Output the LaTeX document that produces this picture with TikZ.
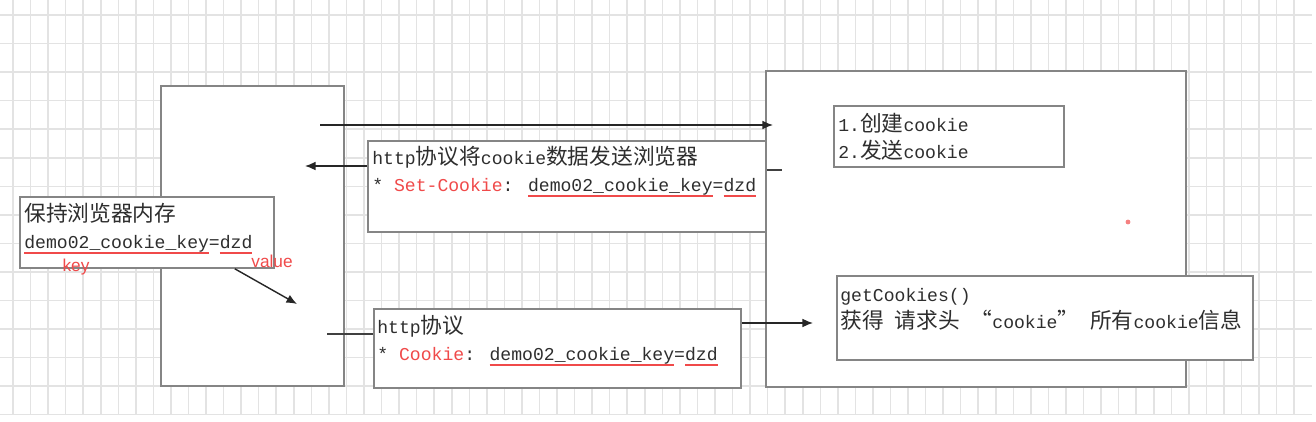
\documentclass[tikz,border=0pt]{standalone}
\usepackage{fontspec}
\setmainfont{Liberation Mono}
\newfontfamily\cjk{Noto Sans CJK SC}[Scale=1.2]
\newfontfamily\lsans{Liberation Sans}
\usetikzlibrary{arrows.meta,positioning,calc}
\usepackage{xcolor}
\definecolor{txtgray}{HTML}{2E2E2E}
\definecolor{boxgray}{HTML}{858585}
\definecolor{ckred}{HTML}{F04A4A}
\definecolor{gridgray}{HTML}{E3E3E3}
\newcommand\zh[1]{{\cjk #1}}
\newcommand\ulred[1]{\setbox0\hbox{#1}\rlap{\color{ckred}\rule[-3.2pt]{\wd0}{1.3pt}}\box0}
\newcommand\cjkstrut{\vphantom{\zh{国}}}

\begin{document}
\begin{tikzpicture}[x=0.2mm, y=-0.2mm,
    box/.style={draw=boxgray, line width=1pt, fill=white, inner sep=0pt, anchor=north west},
    txt/.style={anchor=north west, inner sep=0pt, align=left, text=txtgray, font=\fontsize{10.3}{15.4}\selectfont},
    lbl/.style={inner sep=0pt, text=ckred, font=\lsans\fontsize{9.8}{10}\selectfont},
    arr/.style={draw=black!85, line width=0.8pt, -{Latex[length=6pt,width=5pt]}},
    link/.style={draw=black!75, line width=0.8pt},
    gridline/.style={gridgray, line width=0.9pt}]
    \useasboundingbox (0,0) rectangle (1316,422);

    % background grid
    \foreach \gx in {0,...,73} \draw[gridline] ({13+17.55*\gx},0) -- ++(0,415);
    \foreach \gy in {0,...,14} \draw[gridline] (0,{15+28.55*\gy}) -- (1312,{15+28.55*\gy});

    % browser and server
    \node[box, minimum width=36.6mm, minimum height=60mm] (browser) at (160,85) {};
    \node[box, minimum width=84mm, minimum height=63.2mm] (server) at (765,70) {};

    % browser memory
    \node[box, minimum width=50.8mm, minimum height=14.2mm] (mem) at (19,196) {};
    \node[txt] (memtxt) at (24,203) {\cjkstrut\zh{保持浏览器内存}\\\ulred{demo02\_cookie\_key}=\ulred{dzd}};
    \node[lbl] (keylbl) at (76,267) {key};
    \node[lbl] (vallbl) at (272,261) {value};

    % response: Set-Cookie
    \node[box, minimum width=79.6mm, minimum height=18.2mm] (setck) at (367,140) {};
    \node[txt] (setcktxt) at (372,146) {\cjkstrut http\zh{协议将}cookie\zh{数据发送浏览器}\\* {\color{ckred}Set-Cookie}: \ulred{demo02\_cookie\_key}=\ulred{dzd}};

    % request: Cookie
    \node[box, minimum width=73.4mm, minimum height=15.8mm] (ckreq) at (373,308) {};
    \node[txt] (ckreqtxt) at (377,315) {\cjkstrut http\zh{协议}\\* {\color{ckred}Cookie}: \ulred{demo02\_cookie\_key}=\ulred{dzd}};

    % server side
    \node[box, minimum width=46mm, minimum height=12.2mm] (create) at (833,105) {};
    \node[txt] (createtxt) at (838,113) {\cjkstrut 1.\zh{创建}cookie\\2.\zh{发送}cookie};
    \node[box, minimum width=83.2mm, minimum height=16.8mm] (getck) at (836,275) {};
    \node[txt] (getcktxt) at (840,284) {\cjkstrut getCookies()\\\zh{获得} \zh{请求头} \zh{“}cookie\zh{”} \zh{所有}cookie\zh{信息}};

    \fill[ckred!70] (1128,222) circle (2.4);

    % connectors
    \coordinate (reqout) at (320,125);
    \coordinate (rspin) at (305,166);
    \coordinate (rspstub) at (782,170);
    \coordinate (memin) at (297,304);
    \coordinate (reqin) at (327,334);
    \coordinate (srvin) at (813,323);
    \draw[arr] (reqout) -- ([xshift=1.6mm]reqout -| server.west);
    \draw[arr] (rspin -| setck.west) -- (rspin);
    \draw[link] (rspstub -| setck.east) -- (rspstub);
    \draw[arr] ($(mem.south east)+(-40,0)$) -- (memin);
    \draw[link] (reqin) -- (reqin -| ckreq.west);
    \draw[arr] (srvin -| ckreq.east) -- (srvin);
\end{tikzpicture}
\end{document}
